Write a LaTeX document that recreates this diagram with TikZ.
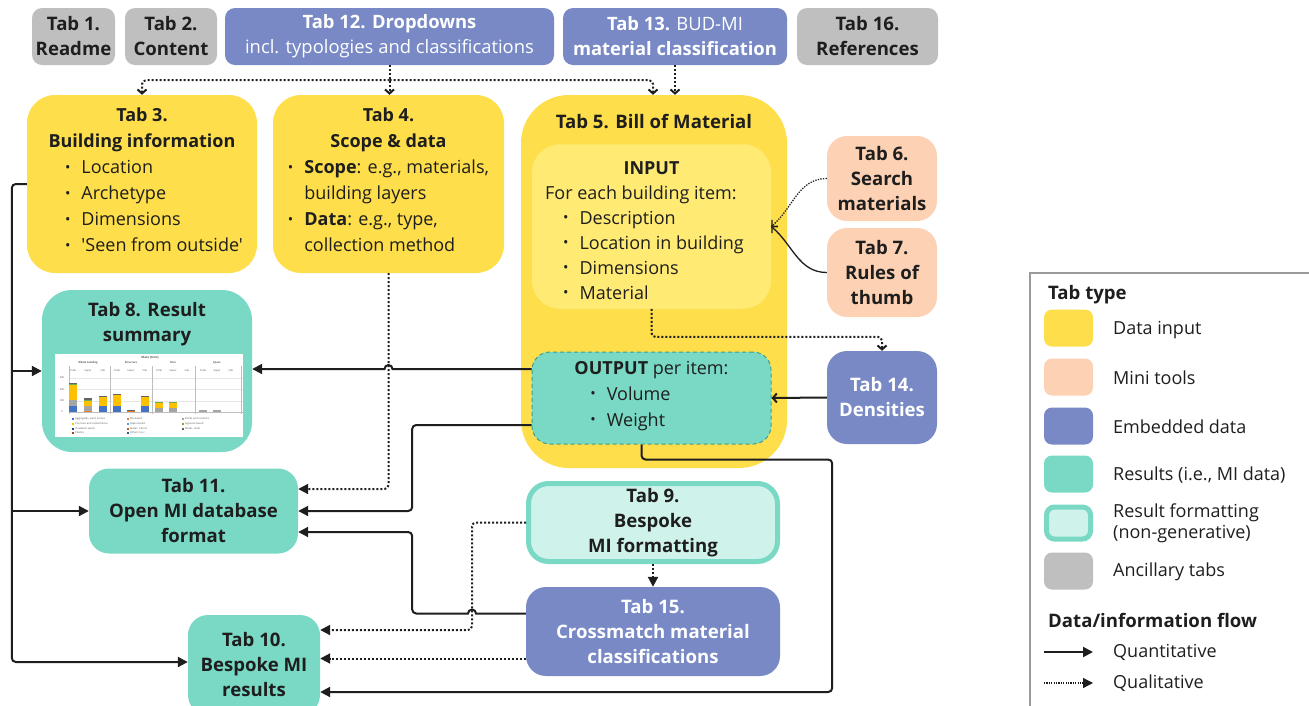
\documentclass[tikz,border=0pt]{standalone}
\usepackage{fontspec}
\setmainfont{Open Sans}[Ligatures=TeXOff]
\usepackage{graphicx}
\usetikzlibrary{positioning, arrows.meta, shapes}

\definecolor{datayellow}{HTML}{FEDE4A}
\definecolor{inputyellow}{HTML}{FFEB74}
\definecolor{minipeach}{HTML}{FDD1B3}
\definecolor{embedblue}{HTML}{7889C6}
\definecolor{resultteal}{HTML}{79D9C5}
\definecolor{formatteal}{HTML}{CFF2EA}
\definecolor{dashteal}{HTML}{3E9E8C}
\definecolor{ancgray}{HTML}{BFBFBF}
\definecolor{legendgray}{HTML}{9A9A9A}
\definecolor{inkdark}{HTML}{1E1E1E}
\definecolor{gridgray}{HTML}{E6E6E6}
\definecolor{axisgray}{HTML}{BDBDBD}
% chart colours
\definecolor{cagg}{HTML}{4472C4}
\definecolor{cconc}{HTML}{FFC000}
\definecolor{cbrick}{HTML}{A5A5A5}
\definecolor{cbio}{HTML}{ED7D31}
\definecolor{cgyps}{HTML}{70AD47}
\definecolor{cglass}{HTML}{5B9BD5}
\definecolor{cinsul}{HTML}{264478}
\definecolor{cmetal}{HTML}{C55A11}
\definecolor{csteel}{HTML}{636363}
\definecolor{cplast}{HTML}{9E480E}
\definecolor{cother}{HTML}{255E91}

\newcommand{\tabbul}{\raisebox{0.2ex}{\scalebox{0.8}{\textbullet}}}

\begin{document}
\begin{tikzpicture}[x=1pt, y=-1pt,
    tabbox/.style={rectangle, rounded corners=20pt, inner sep=2pt, align=center,
                   text=inkdark, font=\fontsize{18}{25}\selectfont},
    datain/.style={tabbox, fill=datayellow, font=\fontsize{18}{26}\selectfont},
    minitool/.style={tabbox, fill=minipeach, font=\fontsize{18.6}{25}\selectfont\bfseries},
    embedded/.style={tabbox, fill=embedblue, text=white, font=\fontsize{18.6}{25}\selectfont\bfseries},
    result/.style={tabbox, fill=resultteal, font=\fontsize{18.6}{25}\selectfont\bfseries},
    formatting/.style={tabbox, fill=formatteal, draw=resultteal, line width=5pt,
                       font=\fontsize{18.6}{25}\selectfont\bfseries},
    ancillary/.style={tabbox, fill=ancgray, rounded corners=10pt,
                      font=\fontsize{18.6}{25}\selectfont\bfseries},
    heading/.style={font=\fontsize{18.6}{25}\selectfont\bfseries, text=inkdark, align=center},
    quant/.style={draw=inkdark, line width=2pt},
    qual/.style={draw=inkdark, line width=2pt, dash pattern=on 2pt off 2pt},
    tri/.style={-{Triangle[length=10pt, width=10pt]}},
    chev/.style={-{Straight Barb[length=4pt, width=9pt]}},
    swatch/.style={rectangle, rounded corners=8pt, minimum width=49pt, minimum height=37pt},
    legtext/.style={font=\fontsize{18}{21}\selectfont, text=inkdark, anchor=west,
                    align=left, inner sep=0pt},
    chartlbl/.style={font=\fontsize{2.6}{3}\selectfont, text=black!65, inner sep=0pt}
  ]
    \useasboundingbox (0,0) rectangle (1309,705);
    \clip (0,0) rectangle (1309,705);

    % Top row: ancillary and embedded tabs
    \node[ancillary, minimum width=83pt, minimum height=57pt] (tab1) at (73.5,36.5) {Tab 1.\\Readme};
    \node[ancillary, minimum width=92pt, minimum height=57pt] (tab2) at (171,36.5) {Tab 2.\\Content};
    \node[embedded, font=\fontsize{18.4}{25}\selectfont, rounded corners=10pt,
          minimum width=329pt, minimum height=57pt] (tab12) at (389.5,36.5) {
      \textbf{Tab 12. Dropdowns}\\
      incl. typologies and classifications
    };
    \node[embedded, font=\fontsize{18.4}{25}\selectfont, rounded corners=10pt,
          minimum width=224pt, minimum height=57pt] (tab13) at (675,36.5) {
      \textbf{Tab 13.} BUD-MI\\
      \textbf{material classification}
    };
    \node[ancillary, minimum width=141pt, minimum height=57pt] (tab16) at (867.5,36.5) {Tab 16.\\References};

    % Data input tabs
    \node[datain, minimum width=230pt, minimum height=178pt, rounded corners=28pt] (tab3) at (142,184) {
      \textbf{Tab 3.}\\
      \textbf{Building information}\\
      \hspace*{24pt}\begin{tabular}[t]{@{}l@{\hspace{11pt}}l@{}}
        \tabbul & Location\\
        \tabbul & Archetype\\
        \tabbul & Dimensions\\
        \tabbul & 'Seen from outside'
      \end{tabular}
    };
    \node[datain, minimum width=231pt, minimum height=178pt, rounded corners=28pt] (tab4) at (388.5,184) {
      \textbf{Tab 4.}\\
      \textbf{Scope \& data}\\
      \begin{tabular}[t]{@{}l@{\hspace{11pt}}l@{}}
        \tabbul & \textbf{Scope}: e.g., materials,\\
                & building layers\\
        \tabbul & \textbf{Data}: e.g., type,\\
                & collection method
      \end{tabular}
    };

    % Bill of material with input and output parts
    \node[datain, minimum width=266pt, minimum height=373pt, rounded corners=48pt] (tab5) at (654,281.5) {};
    \node[heading] (tab5title) at (654,122) {Tab 5. Bill of Material};
    \node[tabbox, fill=inputyellow, minimum width=239pt, minimum height=161pt,
          rounded corners=28pt] (input) at (651.5,226.5) {
      \rule{0pt}{28pt}\textbf{INPUT}\\
      \begin{tabular}[t]{@{}l@{\hspace{11pt}}l@{}}
        \multicolumn{2}{@{}l@{}}{For each building item:}\\
        \hspace*{18pt}\tabbul & Description\\
        \hspace*{18pt}\tabbul & Location in building\\
        \hspace*{18pt}\tabbul & Dimensions\\
        \hspace*{18pt}\tabbul & Material
      \end{tabular}\hspace*{14pt}
    };
    \node[tabbox, fill=resultteal, draw=dashteal, line width=1pt, dash pattern=on 4pt off 3pt,
          font=\fontsize{18}{26}\selectfont,
          minimum width=239pt, minimum height=92pt, rounded corners=18pt] (output) at (651.5,398) {
      \textbf{OUTPUT} per item:\\
      \begin{tabular}[t]{@{}l@{\hspace{11pt}}l@{}}
        \tabbul & Volume\\
        \tabbul & Weight
      \end{tabular}\hspace*{42pt}
    };

    % Mini tools and densities
    \node[minitool, minimum width=110pt, minimum height=85pt] (tab6) at (882,178.5) {Tab 6.\\Search\\materials};
    \node[minitool, minimum width=110pt, minimum height=89pt] (tab7) at (882,272.5) {Tab 7.\\Rules of\\thumb};
    \node[embedded, minimum width=110pt, minimum height=93pt] (tab14) at (882,397.5) {Tab 14.\\Densities};

    % Results
    \node[result, minimum width=210pt, minimum height=162pt, rounded corners=30pt] (tab8) at (147,371) {};
    \node[heading] (tab8title) at (147,324.5) {Tab 8. Result\\summary};
    \node[result, minimum width=209pt, minimum height=85pt] (tab11) at (193.5,511) {Tab 11.\\Open MI database\\format};
    \node[formatting, minimum width=249pt, minimum height=78pt] (tab9) at (653,522.5) {Tab 9.\\Bespoke\\MI formatting};
    \node[embedded, minimum width=254pt, minimum height=89pt] (tab15) at (653,631.5) {Tab 15.\\Crossmatch material\\classifications};
    \node[result, minimum width=132pt, minimum height=100pt] (tab10) at (254,665) {Tab 10.\\Bespoke MI\\results};

    % Result summary chart
    \fill[white] (55,354) rectangle (243,437);
    \node[chartlbl, font=\fontsize{3}{3}\selectfont\bfseries] (charttitle) at (150,358) {Mass [tons]};
    \node[chartlbl, font=\fontsize{2.6}{3}\selectfont\bfseries] (gwhole) at (88,363) {Whole building};
    \node[chartlbl, font=\fontsize{2.6}{3}\selectfont\bfseries] (gstruct) at (131,363) {Structure};
    \node[chartlbl, font=\fontsize{2.6}{3}\selectfont\bfseries] (gskin) at (173,363) {Skin};
    \node[chartlbl, font=\fontsize{2.6}{3}\selectfont\bfseries] (gspace) at (217,363) {Space};
    \node[chartlbl] (s1) at (73,371) {Total};
    \node[chartlbl] (s2) at (88,371) {Super};
    \node[chartlbl] (s3) at (103,371) {Sub};
    \node[chartlbl] (s4) at (117,371) {Total};
    \node[chartlbl] (s5) at (131,371) {Super};
    \node[chartlbl] (s6) at (145,371) {Sub};
    \node[chartlbl] (s7) at (159,371) {Total};
    \node[chartlbl] (s8) at (173,371) {Super};
    \node[chartlbl] (s9) at (187,371) {Sub};
    \node[chartlbl] (s10) at (203,371) {Total};
    \node[chartlbl] (s11) at (217,371) {Super};
    \node[chartlbl] (s12) at (231,371) {Sub};
    \node[chartlbl] (y600) at (62,378) {600};
    \node[chartlbl] (y400) at (62,389.5) {400};
    \node[chartlbl] (y200) at (62,401) {200};
    \node[chartlbl] (y0) at (62,412) {0};
    \draw[gridgray, line width=0.4pt] (69,378) -- (243,378);
    \draw[gridgray, line width=0.4pt] (69,389.5) -- (243,389.5);
    \draw[gridgray, line width=0.4pt] (69,401) -- (243,401);
    \draw[axisgray, line width=0.4pt] (69,412) -- (243,412);
    \draw[axisgray, line width=0.8pt] (69,366) -- (69,414);
    \draw[axisgray, line width=0.8pt] (110,366) -- (110,414);
    \draw[axisgray, line width=0.8pt] (152,366) -- (152,414);
    \draw[axisgray, line width=0.8pt] (195,366) -- (195,414);
    \draw[axisgray, line width=0.8pt] (241,366) -- (241,414);
    % bars: whole building
    \fill[cagg] (69,412) rectangle (77,405.8);
    \fill[cbrick] (69,405.8) rectangle (77,400.1);
    \fill[cconc] (69,400.1) rectangle (77,384.8);
    \fill[cgyps] (69,384.8) rectangle (77,383.7);
    \fill[csteel] (69,383.7) rectangle (77,382.5);
    \fill[cbio] (84,412) rectangle (92,411.4);
    \fill[cbrick] (84,411.4) rectangle (92,405.8);
    \fill[cconc] (84,405.8) rectangle (92,400.7);
    \fill[cgyps] (84,400.7) rectangle (92,399.8);
    \fill[csteel] (84,399.8) rectangle (92,398.4);
    \fill[cagg] (99,412) rectangle (107,405.8);
    \fill[cconc] (99,405.8) rectangle (107,396.1);
    \fill[csteel] (99,396.1) rectangle (107,395.6);
    % bars: structure
    \fill[cagg] (113,412) rectangle (121,405.8);
    \fill[cconc] (113,405.8) rectangle (121,395.0);
    \fill[csteel] (113,395.0) rectangle (121,393.9);
    \fill[cbio] (127,412) rectangle (135,411.4);
    \fill[cbrick] (127,411.4) rectangle (135,410.3);
    \fill[csteel] (127,410.3) rectangle (135,409.7);
    \fill[cagg] (141,412) rectangle (149,405.8);
    \fill[cconc] (141,405.8) rectangle (149,396.1);
    \fill[csteel] (141,396.1) rectangle (149,395.6);
    % bars: skin and space
    \fill[cbrick] (155,412) rectangle (163,408.0);
    \fill[cconc] (155,408.0) rectangle (163,402.9);
    \fill[cgyps] (155,402.9) rectangle (163,402.4);
    \fill[cbrick] (169,412) rectangle (177,408.0);
    \fill[cconc] (169,408.0) rectangle (177,402.9);
    \fill[cgyps] (169,402.9) rectangle (177,402.4);
    \fill[cbrick] (199,412) rectangle (207,409.7);
    \fill[cbrick] (213,412) rectangle (221,409.7);
    % chart legend
    \fill[cagg] (72,418) rectangle (74,420);
    \fill[cconc] (72,423) rectangle (74,425);
    \fill[cinsul] (72,428) rectangle (74,430);
    \fill[cplast] (72,432) rectangle (74,434);
    \fill[cbio] (127,418) rectangle (129,420);
    \fill[cglass] (127,423) rectangle (129,425);
    \fill[cmetal] (127,428) rectangle (129,430);
    \fill[cother] (127,432) rectangle (129,434);
    \fill[cbrick] (182,418) rectangle (184,420);
    \fill[cgyps] (182,423) rectangle (184,425);
    \fill[csteel] (182,428) rectangle (184,430);
    \node[chartlbl, anchor=west] (l1) at (75,419) {Aggregates, sand, stones};
    \node[chartlbl, anchor=west] (l2) at (75,424) {Concrete and cementitious};
    \node[chartlbl, anchor=west] (l3) at (75,429) {Insulation wools};
    \node[chartlbl, anchor=west] (l4) at (75,433) {Plastics};
    \node[chartlbl, anchor=west] (l5) at (130,419) {Bio-based};
    \node[chartlbl, anchor=west] (l6) at (130,424) {Glass-based};
    \node[chartlbl, anchor=west] (l7) at (130,429) {Metal - others};
    \node[chartlbl, anchor=west] (l8) at (130,433) {Others n.e.c};
    \node[chartlbl, anchor=west] (l9) at (185,419) {Bricks and ceramics};
    \node[chartlbl, anchor=west] (l10) at (185,424) {Gypsum-based};
    \node[chartlbl, anchor=west] (l11) at (185,429) {Metal - steel};

    % Dropdowns and classification feed the data input tabs
    \coordinate (hub) at ([yshift=-15pt]tab12.south);
    \draw[qual, chev] (tab12.south) -- (tab12.south |- tab4.north);
    \draw[qual, chev, rounded corners=4pt] (hub) -| (tab3.north);
    \draw[qual, chev, rounded corners=4pt] (hub) -| ([xshift=-1pt]tab5.north);
    \draw[qual, chev] (tab13.south) -- (tab13.south |- tab5.north);

    % Building information to results (left bus)
    \coordinate (bus) at ([xshift=-15pt]tab3.west);
    \draw[quant, tri, rounded corners=4pt] (tab3.west) -- (bus) |- ([yshift=3pt]tab10.west);
    \draw[quant, tri] (bus |- tab8.west) -- (tab8.west);
    \draw[quant, tri] (bus |- tab11.west) -- (tab11.west);

    % Output to result summary, hopping over the dotted line
    \coordinate (outA) at ([yshift=29pt]output.west);
    \coordinate (outB) at ([yshift=-27pt]output.west);
    \coordinate (hopA) at (tab4.south |- outA);
    \draw[quant, tri] (outA) -- ([xshift=4pt]hopA) arc[start angle=0, end angle=180, radius=4pt]
      -- (tab8.east |- outA);

    % Scope and output to open MI database
    \draw[qual, tri, rounded corners=4pt] (tab4.south) |- ([yshift=22pt]tab11.east);
    \draw[quant, tri, rounded corners=4pt] (outB) -| ([xshift=114pt]tab11.east) -- (tab11.east);

    % Crossmatch to open MI database, hopping over the dotted line
    \coordinate (crossA) at ([yshift=18pt]tab15.west);
    \coordinate (crossB) at ([yshift=-27pt]tab15.west);
    \coordinate (qbend) at ([xshift=-54pt]tab9.west);
    \coordinate (hopB) at (qbend |- crossA);
    \draw[quant, tri] (crossA) -- ([xshift=4pt]hopB) arc[start angle=0, end angle=180, radius=4pt]
      [rounded corners=4pt] -| ([xshift=114pt, yshift=-21pt]tab11.east) -- ([yshift=-21pt]tab11.east);

    % Formatting and crossmatch to bespoke results
    \draw[qual, tri, rounded corners=4pt] (tab9.west) -- (qbend) |- ([yshift=35pt]tab10.east);
    \draw[qual, tri] (crossB) -- (tab10.east |- crossB);
    \draw[qual, tri] (tab9.south) -- (tab15.north);

    % Output loop to bespoke results
    \coordinate (loopA) at ([xshift=-10pt]output.south);
    \draw[quant, tri, rounded corners=4pt] (loopA) -- ++(0,15)
      -| ([xshift=512pt, yshift=-27pt]tab10.east) -- ([yshift=-27pt]tab10.east);

    % Mini tools and densities
    \draw[qual, chev, line width=1.3pt, dash pattern=on 1.3pt off 1.3pt] (tab6.west) to[out=180, in=40] (input.east);
    \draw[quant, chev, line width=1.3pt] (tab7.west) to[out=180, in=-40] (input.east);
    \draw[qual, chev, rounded corners=4pt] (input.south) -- ++(0,28) -| (tab14.north);
    \draw[quant, chev] (tab14.west) -- (output.east);

    % Legend
    \node[draw=legendgray, line width=2pt, minimum width=300pt, minimum height=460pt,
          anchor=north west] (legend) at (1029,272) {};
    \node[legtext, font=\fontsize{18.6}{21}\selectfont\bfseries] (legtype) at (1048,295) {Tab type};
    \node[swatch, fill=datayellow] (sw1) at (1068.5,328) {};
    \node[swatch, fill=minipeach] (sw2) at (1068.5,377) {};
    \node[swatch, fill=embedblue] (sw3) at (1068.5,426) {};
    \node[swatch, fill=resultteal] (sw4) at (1068.5,474) {};
    \node[swatch, fill=formatteal, draw=resultteal, line width=5pt,
          minimum width=44pt, minimum height=32pt] (sw5) at (1068.5,523) {};
    \node[swatch, fill=ancgray] (sw6) at (1068.5,571) {};
    \node[legtext] (lg1) at (1113,330) {Data input};
    \node[legtext] (lg2) at (1113,378) {Mini tools};
    \node[legtext] (lg3) at (1113,427) {Embedded data};
    \node[legtext] (lg4) at (1113,475) {Results (i.e., MI data)};
    \node[legtext] (lg5) at (1113,523) {Result formatting\\(non-generative)};
    \node[legtext] (lg6) at (1113,572) {Ancillary tabs};
    \node[legtext, font=\fontsize{18.6}{21}\selectfont\bfseries] (legflow) at (1048,620) {Data/information flow};
    \coordinate (lqa) at (1044,652);
    \coordinate (lqb) at (1093,652);
    \coordinate (lla) at (1044,683);
    \coordinate (llb) at (1093,683);
    \draw[quant, tri] (lqa) -- (lqb);
    \draw[qual, tri, line width=1.2pt, dash pattern=on 1.2pt off 1.2pt] (lla) -- (llb);
    \node[legtext] (lg7) at (1113,652) {Quantitative};
    \node[legtext] (lg8) at (1113,683) {Qualitative};

  \end{tikzpicture}
\end{document}
